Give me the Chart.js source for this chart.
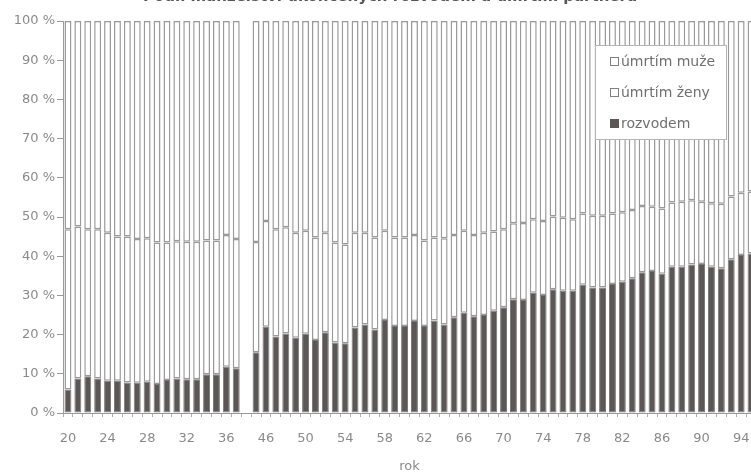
<!DOCTYPE html>
<html lang="cs">
<head>
<meta charset="utf-8">
<title>Ukončená manželství</title>
<script src="https://cdn.jsdelivr.net/npm/chart.js@4/dist/chart.umd.min.js"></script>
<style>
  html, body { margin: 0; padding: 0; background: #fff; overflow: hidden; }
  #wrap { width: 780px; height: 472px; }
</style>
</head>
<body>
<div id="wrap"><canvas id="chart" width="780" height="472"></canvas></div>
<script>
// years 1920-1937, one empty slot for the war gap, then 1945-1995
const years = ['20','21','22','23','24','25','26','27','28','29','30','31','32','33','34','35','36','37',
  '',
  '45','46','47','48','49','50','51','52','53','54','55','56','57','58','59','60','61','62','63','64',
  '65','66','67','68','69','70','71','72','73','74','75','76','77','78','79','80','81','82','83','84',
  '85','86','87','88','89','90','91','92','93','94','95'];

// shares in %
const rozvodem = [6.0,8.8,9.4,8.8,8.2,8.2,7.8,7.7,8.0,7.4,8.4,8.8,8.6,8.6,9.9,9.9,11.8,11.4,
  null,
  15.5,22.0,19.5,20.3,19.2,20.2,18.6,20.6,18.0,17.8,21.8,22.6,21.3,23.7,22.2,22.2,23.5,22.2,23.6,22.6,
  24.4,25.6,24.7,25.0,26.1,27.0,29.0,28.8,30.7,30.1,31.6,31.2,31.2,32.7,32.0,32.0,32.9,33.5,34.4,35.9,
  36.2,35.5,37.3,37.3,37.9,38.0,37.3,36.9,39.2,40.3,40.7];

const umrtimZeny = [40.9,38.8,37.5,38.1,37.8,36.8,37.2,36.7,36.6,36.1,35.1,35.0,35.1,35.1,34.1,34.1,33.6,33.0,
  null,
  28.1,27.0,27.4,27.1,26.8,26.3,26.2,25.4,25.5,25.2,24.2,23.4,23.5,22.8,22.6,22.6,21.9,21.8,21.2,22.0,
  21.0,20.9,20.7,21.0,20.2,19.9,19.4,19.7,18.7,18.9,18.5,18.6,18.2,18.2,18.3,18.3,18.0,17.7,17.4,16.9,
  16.4,16.7,16.4,16.6,16.4,15.9,16.2,16.5,16.0,15.9,15.8];

const umrtimMuze = [53.1,52.4,53.1,53.1,54.0,55.0,55.0,55.6,55.4,56.5,56.5,56.2,56.3,56.3,56.0,56.0,54.6,55.6,
  null,
  56.4,51.0,53.1,52.6,54.0,53.5,55.2,54.0,56.5,57.0,54.0,54.0,55.2,53.5,55.2,55.2,54.6,56.0,55.2,55.4,
  54.6,53.5,54.6,54.0,53.7,53.1,51.6,51.5,50.6,51.0,49.9,50.2,50.6,49.1,49.7,49.7,49.1,48.8,48.2,47.2,
  47.4,47.8,46.3,46.1,45.7,46.1,46.5,46.6,44.8,43.8,43.5];

const titleText = 'Podíl manželství ukončených rozvodem a úmrtím partnera';

const FONT = '"DejaVu Sans", "Liberation Sans", sans-serif';
const GRAY = '#9a9a9a';
const TEXT = '#8a8a8a';

// small legend box drawn inside the plot, like the original
const boxLegend = {
  id: 'boxLegend',
  afterDraw(chart) {
    const ctx = chart.ctx;
    const x = 595, y = 45, w = 132, h = 95;
    ctx.save();
    ctx.fillStyle = '#fff';
    ctx.fillRect(x, y, w, h);
    ctx.strokeStyle = '#b5b5b5';
    ctx.lineWidth = 1;
    ctx.strokeRect(x + 0.5, y + 0.5, w - 1, h - 1);

    const items = chart.data.datasets.slice().reverse();
    ctx.font = '14px ' + FONT;
    ctx.textBaseline = 'middle';
    items.forEach((ds, i) => {
      const cy = 62 + i * 31;
      ctx.fillStyle = ds.backgroundColor;
      ctx.fillRect(610, cy - 5, 9, 9);
      ctx.strokeStyle = ds.label === 'rozvodem' ? ds.backgroundColor : '#808080';
      ctx.strokeRect(610.5, cy - 4.5, 8, 8);
      ctx.fillStyle = '#707070';
      ctx.fillText(ds.label, 621, cy);
    });
    ctx.restore();
  }
};

// title sits mostly above the picture, so only its lower edge shows
const cutTitle = {
  id: 'cutTitle',
  afterDraw(chart) {
    const ctx = chart.ctx;
    ctx.save();
    ctx.font = 'bold 15px ' + FONT;
    ctx.fillStyle = '#555';
    ctx.textAlign = 'center';
    ctx.textBaseline = 'alphabetic';
    ctx.fillText(titleText, 390, 1);
    ctx.restore();
  }
};

const ctx = document.getElementById('chart').getContext('2d');
new Chart(ctx, {
  type: 'bar',
  data: {
    labels: years,
    datasets: [
      { label: 'rozvodem', data: rozvodem, backgroundColor: '#5b5757', borderColor: '#7e7b7b',
        borderWidth: 1, borderSkipped: false, barPercentage: 0.7, categoryPercentage: 1 },
      { label: 'úmrtím ženy', data: umrtimZeny, backgroundColor: '#ffffff', borderColor: GRAY,
        borderWidth: 1.5, borderSkipped: false, barPercentage: 0.7, categoryPercentage: 1 },
      { label: 'úmrtím muže', data: umrtimMuze, backgroundColor: '#ffffff', borderColor: GRAY,
        borderWidth: 1.5, borderSkipped: false, barPercentage: 0.7, categoryPercentage: 1 }
    ]
  },
  options: {
    responsive: false,
    animation: false,
    layout: { padding: { top: 21, right: 24, left: 0, bottom: 0 } },
    plugins: {
      legend: { display: false },
      tooltip: { enabled: false }
    },
    scales: {
      x: {
        stacked: true,
        grid: { drawOnChartArea: false, tickLength: 4, color: '#b0b0b0' },
        border: { color: GRAY },
        ticks: {
          autoSkip: false,
          maxRotation: 0,
          padding: 14,
          color: TEXT,
          font: { family: FONT, size: 13 },
          callback: (v, i) => (i % 4 === 0 ? years[i] : '')
        },
        title: { display: true, text: 'rok', color: TEXT,
                 font: { family: FONT, size: 13, lineHeight: 0.8 }, padding: 0 },
        afterFit: s => { s.height = 59; }
      },
      y: {
        stacked: true,
        min: 0,
        max: 100,
        grid: { drawOnChartArea: false, tickLength: 6, color: GRAY },
        border: { color: GRAY },
        ticks: {
          stepSize: 10,
          padding: 2,
          color: TEXT,
          font: { family: FONT, size: 13 },
          callback: v => v + ' %'
        },
        afterFit: s => { s.width = 63; }
      }
    }
  },
  plugins: [boxLegend, cutTitle]
});
</script>
</body>
</html>
